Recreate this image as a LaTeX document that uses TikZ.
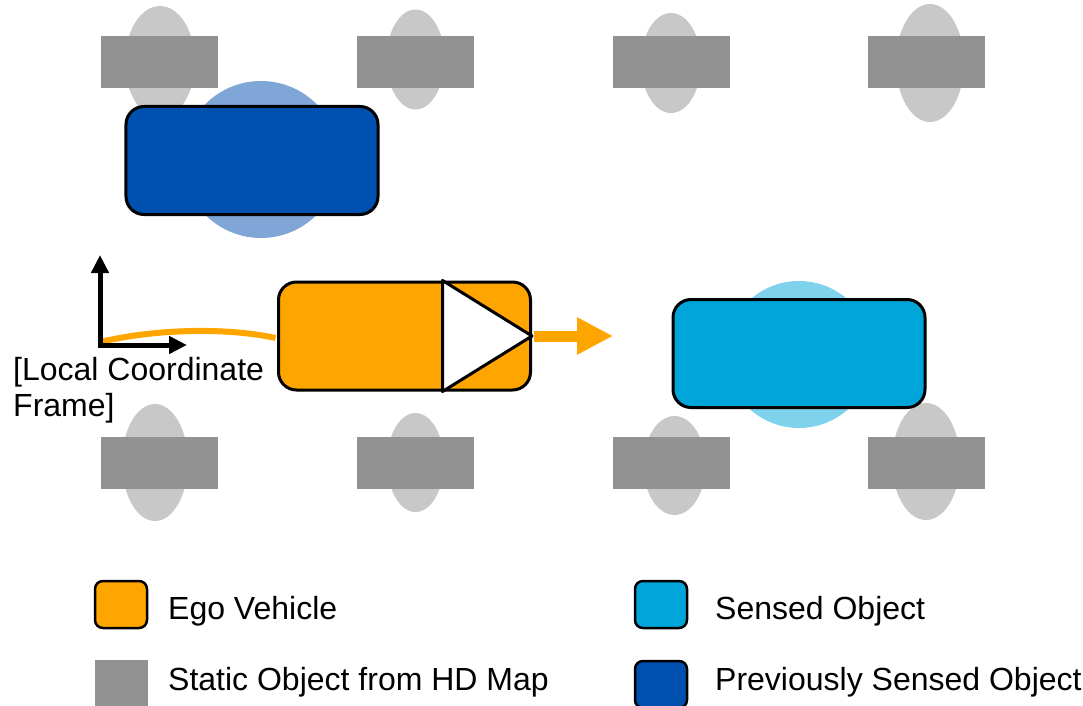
\documentclass[tikz,border=0pt]{standalone}
\usepackage{fontspec}
\setmainfont{Liberation Sans}
\usetikzlibrary{positioning,shapes.geometric,arrows.meta}

\definecolor{egoorange}{RGB}{255,165,0}
\definecolor{sensblue}{RGB}{0,166,218}
\definecolor{sensglow}{RGB}{127,210,236}
\definecolor{prevblue}{RGB}{0,80,176}
\definecolor{prevglow}{RGB}{127,166,214}
\definecolor{mapgray}{RGB}{146,146,146}
\definecolor{mapglow}{RGB}{200,200,200}

\tikzset{
  mapobj/.style={rectangle, fill=mapgray, minimum width=117bp, minimum height=52bp, inner sep=0pt, outer sep=0pt},
  mapblob/.style={ellipse, fill=mapglow, inner sep=0pt},
  glow/.style={circle, inner sep=0pt},
  car/.style={rectangle, rounded corners=18bp, draw=black, line width=3bp, minimum width=252bp, minimum height=108bp, inner sep=0pt},
  key/.style={rectangle, rounded corners=8bp, draw=black, line width=2.5bp, minimum width=52bp, minimum height=47bp, inner sep=0pt},
  keytext/.style={anchor=base west, inner sep=0pt},
  axis/.style={line width=5bp, -{Triangle[width=17bp,length=18bp]}}
}

\begin{document}
\begin{tikzpicture}[x=1bp, y=-1bp, font=\fontsize{32bp}{36bp}\selectfont]
  \useasboundingbox (0,0) rectangle (1083,706);

  \node[mapblob, minimum width=70bp, minimum height=112bp] (t1) at (160,62) {};
  \node[mapblob, minimum width=58bp, minimum height=100bp] (t2) at (415.5,59.5) {};
  \node[mapblob, minimum width=60bp, minimum height=100bp] (t3) at (671,63) {};
  \node[mapblob, minimum width=68bp, minimum height=118bp] (t4) at (930,63) {};
  \node[mapblob, minimum width=66bp, minimum height=117bp] (b1) at (155,462.5) {};
  \node[mapblob, minimum width=57bp, minimum height=99bp] (b2) at (415.5,462.5) {};
  \node[mapblob, minimum width=62bp, minimum height=99bp] (b3) at (674.5,465.5) {};
  \node[mapblob, minimum width=68bp, minimum height=117bp] (b4) at (926,461.5) {};

  \node[mapobj] (st1) at (159.5,62) {};
  \node[mapobj] (st2) [right=139bp of st1] {};
  \node[mapobj] (st3) [right=139bp of st2] {};
  \node[mapobj] (st4) [right=138bp of st3] {};
  \node[mapobj] (sb1) at (159.5,463) {};
  \node[mapobj] (sb2) [right=139bp of sb1] {};
  \node[mapobj] (sb3) [right=139bp of sb2] {};
  \node[mapobj] (sb4) [right=138bp of sb3] {};

  \node[glow, fill=prevglow, minimum size=157bp] (pglow) at (261,159.5) {};
  \node[car, fill=prevblue] (prev) at (252,160.5) {};
  \node[glow, fill=sensglow, minimum size=147bp] (sglow) at (799,354.5) {};
  \node[car, fill=sensblue] (sens) at (799,353.5) {};

  \coordinate (orig) at (100,345);
  \coordinate (yend) at (100,255);
  \coordinate (xend) at (187,345);
  \coordinate (goal) at (613,336);

  \node[car, fill=egoorange] (ego) at (404.5,336) {};
  \draw[black, line width=3bp, fill=white, line join=round]
    ([xshift=-89.5bp]ego.north east) -- (ego.east) -- ([xshift=-89.5bp]ego.south east) -- cycle;
  \draw[egoorange, line width=11bp, -{Triangle[width=35bp,length=36bp]}]
    ([xshift=1.5bp]ego.east) -- (goal);
  \draw[egoorange, line width=6bp]
    ([yshift=3bp]orig) .. controls (160,328) and (230,328) .. ([xshift=-1.5bp,yshift=-2bp]ego.west);

  \draw[axis] ([yshift=-2.5bp]orig) -- (yend);
  \draw[axis] ([xshift=-2.5bp]orig) -- (xend);
  \node[anchor=base west, align=left, inner sep=0pt] (frame) at (13,416) {[Local Coordinate\\Frame]};

  \node[key, fill=egoorange] (kego) at (121,604.5) {};
  \node[rectangle, fill=mapgray, minimum width=53bp, minimum height=49bp, inner sep=0pt] (kmap) at (121.5,684.5) {};
  \node[key, fill=sensblue] (ksens) at (661,604.5) {};
  \node[key, fill=prevblue] (kprev) at (661,684.5) {};
  \node[keytext] (tego) at (168,619) {Ego Vehicle};
  \node[keytext] (tmap) at (168,690) {Static Object from HD Map};
  \node[keytext] (tsens) at (715,619) {Sensed Object};
  \node[keytext] (tprev) at (715,690) {Previously Sensed Object};
\end{tikzpicture}
\end{document}
